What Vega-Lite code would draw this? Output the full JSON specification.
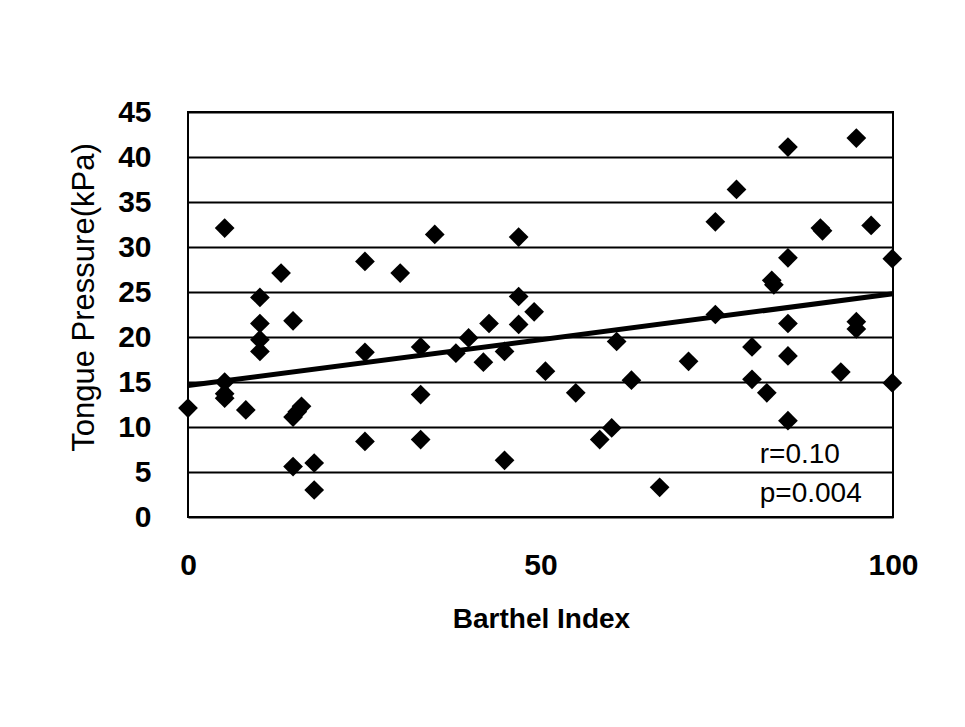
{
  "$schema": "https://vega.github.io/schema/vega-lite/v6.json",
  "autosize": {"type": "none"},
  "padding": {"left": 188, "top": 112, "right": 72, "bottom": 210},
  "width": 705,
  "height": 405,
  "background": "white",
  "config": {
    "view": {"stroke": "black", "strokeWidth": 2},
    "axis": {"domain": false, "ticks": false, "labelColor": "black", "titleColor": "black"}
  },
  "datasets": {
    "points": [
      {"bi": 0, "tp": 12.1}, {"bi": 5.2, "tp": 32.1}, {"bi": 5.2, "tp": 15.0}, {"bi": 5.2, "tp": 13.7},
      {"bi": 5.2, "tp": 13.2}, {"bi": 8.2, "tp": 11.9}, {"bi": 10.2, "tp": 24.4}, {"bi": 10.2, "tp": 21.5},
      {"bi": 10.2, "tp": 19.7}, {"bi": 10.2, "tp": 18.4}, {"bi": 13.2, "tp": 27.1}, {"bi": 14.9, "tp": 21.8},
      {"bi": 14.9, "tp": 11.1}, {"bi": 16.1, "tp": 12.3}, {"bi": 15.5, "tp": 11.7}, {"bi": 14.9, "tp": 5.6},
      {"bi": 17.9, "tp": 6.0}, {"bi": 17.9, "tp": 3.0}, {"bi": 25.1, "tp": 28.4}, {"bi": 25.1, "tp": 18.3},
      {"bi": 25.1, "tp": 8.4}, {"bi": 30.1, "tp": 27.1}, {"bi": 35.0, "tp": 31.4}, {"bi": 33.0, "tp": 18.9},
      {"bi": 33.0, "tp": 13.6}, {"bi": 33.0, "tp": 8.6}, {"bi": 38.0, "tp": 18.2}, {"bi": 39.8, "tp": 19.9},
      {"bi": 41.9, "tp": 17.2}, {"bi": 42.7, "tp": 21.5}, {"bi": 44.9, "tp": 18.4}, {"bi": 44.9, "tp": 6.3},
      {"bi": 46.9, "tp": 31.1}, {"bi": 46.9, "tp": 24.5}, {"bi": 46.9, "tp": 21.4}, {"bi": 49.1, "tp": 22.8},
      {"bi": 50.7, "tp": 16.2}, {"bi": 55.0, "tp": 13.8}, {"bi": 60.8, "tp": 19.5}, {"bi": 62.9, "tp": 15.2},
      {"bi": 58.4, "tp": 8.6}, {"bi": 60.1, "tp": 9.9}, {"bi": 66.9, "tp": 3.3}, {"bi": 71.0, "tp": 17.3},
      {"bi": 74.8, "tp": 32.8}, {"bi": 74.8, "tp": 22.5}, {"bi": 77.8, "tp": 36.4}, {"bi": 80.0, "tp": 18.9},
      {"bi": 80.0, "tp": 15.3}, {"bi": 82.1, "tp": 13.8}, {"bi": 82.8, "tp": 26.3}, {"bi": 83.1, "tp": 25.8},
      {"bi": 85.1, "tp": 41.1}, {"bi": 85.1, "tp": 28.8}, {"bi": 85.1, "tp": 21.5}, {"bi": 85.1, "tp": 17.9},
      {"bi": 85.1, "tp": 10.7}, {"bi": 89.7, "tp": 32.1}, {"bi": 90.0, "tp": 31.8}, {"bi": 92.6, "tp": 16.1},
      {"bi": 94.8, "tp": 42.1}, {"bi": 94.8, "tp": 21.7}, {"bi": 94.8, "tp": 20.9}, {"bi": 96.9, "tp": 32.4},
      {"bi": 99.9, "tp": 28.7}, {"bi": 99.9, "tp": 14.9}
    ],
    "fit": [{"bi": 0, "tp": 14.6}, {"bi": 100, "tp": 24.8}],
    "stats": [{"bi": 81.1, "tp": 6.0, "label": "r=0.10"}, {"bi": 81.1, "tp": 1.7, "label": "p=0.004"}]
  },
  "layer": [
    {
      "data": {"name": "points"},
      "mark": {"type": "point", "shape": "diamond", "filled": true, "color": "black", "opacity": 1, "size": 390, "clip": false},
      "encoding": {
        "x": {
          "field": "bi", "type": "quantitative",
          "scale": {"domain": [0, 100], "nice": false, "zero": false},
          "axis": {
            "values": [0, 50, 100], "grid": false, "title": "Barthel Index",
            "labelFont": "Liberation Sans", "labelFontWeight": "bold", "labelFontSize": 30,
            "labelPadding": 33, "labelFlush": false,
            "titleFont": "Liberation Sans", "titleFontWeight": "bold", "titleFontSize": 28,
            "titleX": 353, "titleY": 110, "titleBaseline": "alphabetic"
          }
        },
        "y": {
          "field": "tp", "type": "quantitative",
          "scale": {"domain": [0, 45], "nice": false, "zero": true},
          "axis": {
            "values": [0, 5, 10, 15, 20, 25, 30, 35, 40, 45], "grid": true,
            "gridColor": "black", "gridWidth": 2, "gridOpacity": 1,
            "title": "Tongue Pressure(kPa)",
            "labelFont": "Liberation Sans", "labelFontWeight": "bold", "labelFontSize": 30,
            "labelPadding": 37, "labelFlush": false,
            "titleFont": "Liberation Sans", "titleFontWeight": "normal", "titleFontSize": 31,
            "titleX": -95, "titleY": 185, "titleBaseline": "alphabetic"
          }
        }
      }
    },
    {
      "data": {"name": "fit"},
      "mark": {"type": "line", "color": "black", "strokeWidth": 5, "clip": false},
      "encoding": {
        "x": {"field": "bi", "type": "quantitative"},
        "y": {"field": "tp", "type": "quantitative"}
      }
    },
    {
      "data": {"name": "stats"},
      "mark": {"type": "text", "align": "left", "baseline": "alphabetic", "font": "Liberation Sans", "fontSize": 28, "color": "black"},
      "encoding": {
        "x": {"field": "bi", "type": "quantitative"},
        "y": {"field": "tp", "type": "quantitative"},
        "text": {"field": "label"}
      }
    }
  ]
}
